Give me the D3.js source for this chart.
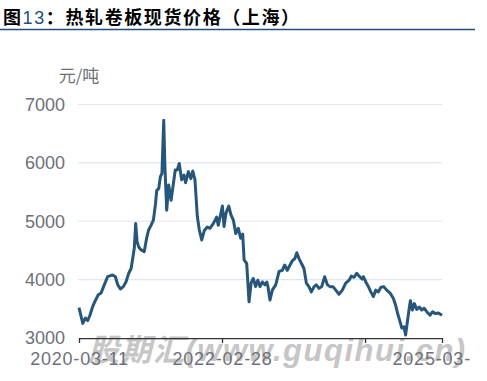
<!DOCTYPE html>
<html><head><meta charset="utf-8">
<script src="https://cdn.jsdelivr.net/npm/d3@7"></script>
<style>
html,body{margin:0;padding:0;background:#fff;}
svg{display:block;}
</style></head>
<body>
<svg id="c" width="487" height="381"></svg>
<script>
const titleText = ["图", "13", "：热轧卷板现货价格（上海）"];
const unitLabel = "元/吨";
const watermark = "股期汇(www.guqihui.cn)";
const yTicks = [3000, 4000, 5000, 6000, 7000];
const xTickDates = ["2020-03-11", "2022-02-28", "2024-02-17", "2025-03-10"];
const xTickLabels = ["2020-03-11", "2022-02-28", "", "2025-03-10"];
const dates = ["2020-03-11","2020-03-30","2020-04-12","2020-04-24","2020-05-05","2020-05-19","2020-06-01","2020-06-16","2020-06-30","2020-07-16","2020-08-02","2020-08-27","2020-09-10","2020-09-22","2020-10-05","2020-10-20","2020-11-02","2020-11-16","2020-11-28","2020-12-06","2020-12-14","2020-12-21","2020-12-28","2021-01-05","2021-01-17","2021-02-02","2021-02-14","2021-02-24","2021-03-08","2021-03-20","2021-03-30","2021-04-06","2021-04-16","2021-04-24","2021-05-02","2021-05-11","2021-05-17","2021-05-26","2021-06-05","2021-06-17","2021-06-30","2021-07-08","2021-07-18","2021-07-28","2021-08-09","2021-08-21","2021-08-29","2021-09-12","2021-09-24","2021-10-04","2021-10-15","2021-10-27","2021-11-06","2021-11-18","2021-12-01","2021-12-16","2021-12-30","2022-01-15","2022-02-01","2022-02-09","2022-02-18","2022-03-02","2022-03-10","2022-03-20","2022-04-03","2022-04-14","2022-04-26","2022-05-08","2022-05-21","2022-06-02","2022-06-12","2022-06-19","2022-07-02","2022-07-14","2022-07-24","2022-08-04","2022-08-16","2022-08-27","2022-09-07","2022-09-19","2022-10-02","2022-10-11","2022-10-17","2022-10-27","2022-11-08","2022-11-25","2022-12-12","2022-12-28","2023-01-09","2023-01-22","2023-02-05","2023-02-16","2023-03-01","2023-03-11","2023-03-22","2023-04-03","2023-04-16","2023-04-28","2023-05-11","2023-05-23","2023-06-06","2023-06-17","2023-07-01","2023-07-14","2023-07-29","2023-08-12","2023-08-25","2023-09-09","2023-09-23","2023-10-09","2023-10-26","2023-11-12","2023-11-29","2023-12-10","2023-12-24","2024-01-06","2024-01-21","2024-02-03","2024-02-09","2024-02-21","2024-03-05","2024-03-17","2024-03-30","2024-04-11","2024-04-24","2024-05-07","2024-05-21","2024-06-05","2024-06-22","2024-07-08","2024-07-20","2024-07-30","2024-08-11","2024-08-20","2024-08-31","2024-09-08","2024-09-17","2024-09-25","2024-10-02","2024-10-12","2024-10-22","2024-11-03","2024-11-16","2024-11-28","2024-12-10","2024-12-23","2025-01-09","2025-01-22","2025-02-03","2025-02-20","2025-03-05","2025-03-10"];
const prices = [3520,3250,3340,3300,3390,3540,3640,3740,3770,3910,4050,4080,4050,3910,3840,3880,3960,4110,4190,4360,4540,4960,4650,4560,4510,4480,4710,4850,4930,5020,5280,5530,5560,5760,5820,6730,5930,5190,5620,5360,5680,5880,5880,5990,5710,5790,5660,5850,5730,5860,5710,5080,4850,4680,4840,4900,4880,4960,5070,4930,5070,5260,4910,5140,5260,5110,5020,4790,4880,4710,4780,4340,4280,3620,3940,4020,3880,3990,3880,3960,3910,3960,3880,3650,3820,3910,4140,4160,4250,4160,4250,4320,4360,4460,4360,4280,4190,3940,3880,3790,3880,3910,3850,3880,4050,3910,3880,3880,3820,3750,3820,3940,3990,4060,4040,4110,4050,4010,4050,3960,3880,3790,3710,3820,3790,3870,3880,3820,3770,3680,3560,3420,3280,3170,3190,3050,3280,3480,3640,3480,3590,3490,3530,3480,3510,3450,3390,3450,3420,3430,3400,3390];

const parse = d3.timeParse("%Y-%m-%d");
const data = dates.map((d, i) => ({date: parse(d), v: prices[i]}));
const svg = d3.select("#c");

// title
const t = svg.append("text").attr("x", 3).attr("y", 24)
  .style("font-family", "'Noto Sans CJK SC', sans-serif").style("font-size", "18px")
  .style("letter-spacing", "1.6px");
t.append("tspan").text(titleText[0]).style("font-weight", "bold").attr("fill", "#000");
t.append("tspan").text(titleText[1]).style("font-family", "'Liberation Sans', Arial, sans-serif")
  .attr("fill", "#1f4e79").style("font-size", "18px");
t.append("tspan").text(titleText[2]).style("font-weight", "bold").attr("fill", "#000");
svg.append("line").attr("x1", 0).attr("x2", 475).attr("y1", 29.5).attr("y2", 29.5)
  .attr("stroke", "#1f4e79").attr("stroke-width", 1.5);

const x = d3.scaleTime().domain([parse(xTickDates[0]), parse(xTickDates[3])]).range([79, 442]);
const y = d3.scaleLinear().domain([3000, 7000]).range([338, 104.5]);

// watermark (behind)
svg.append("text").attr("x", 88).attr("y", 361).text(watermark)
  .style("font-family", "'Liberation Sans', 'Noto Sans CJK SC', sans-serif")
  .style("font-size", "31px").style("font-weight", "bold").style("font-style", "italic")
  .style("letter-spacing", "1.5px").attr("fill", "#c6c6c6");

// grid
svg.append("g").selectAll("line").data(yTicks.filter(d => d > 3000)).join("line")
  .attr("x1", 78).attr("x2", 442).attr("y1", d => y(d)).attr("y2", d => y(d))
  .attr("stroke", "#e0e6f1").attr("stroke-width", 1.2);

// y labels
svg.append("g").selectAll("text").data(yTicks).join("text")
  .attr("x", 65).attr("y", d => y(d)).attr("dy", "0.36em").attr("text-anchor", "end")
  .text(d => d).style("font-family", "'Liberation Sans', Arial, sans-serif")
  .style("font-size", "18px").attr("fill", "#6e7079");

svg.append("text").attr("x", 79).attr("y", 82).attr("text-anchor", "middle").text(unitLabel)
  .style("font-family", "'Noto Sans CJK SC', sans-serif").style("font-size", "17px").attr("fill", "#6e7079");

// x axis
const xAxis = d3.axisBottom(x).tickValues(xTickDates.map(parse)).tickSize(5)
  .tickSizeOuter(0).tickFormat((d, i) => xTickLabels[i]);
svg.append("defs").append("clipPath").attr("id", "clipx").append("rect")
  .attr("x", 0).attr("y", 0).attr("width", 472).attr("height", 381);
const gx = svg.append("g").attr("transform", "translate(0,338)").attr("clip-path", "url(#clipx)").call(xAxis);
gx.select(".domain").attr("stroke", "#333").attr("stroke-width", 1.5);
gx.selectAll(".tick line").attr("stroke", "#333").attr("stroke-width", 1.3);
gx.selectAll(".tick text").attr("fill", "#6e7079").attr("y", 14)
  .style("font-family", "'Liberation Sans', Arial, sans-serif").style("font-size", "18px")
  .style("letter-spacing", "0.8px");

// line
const line = d3.line().x(d => x(d.date)).y(d => y(d.v));
svg.append("path").datum(data).attr("d", line).attr("fill", "none")
  .attr("stroke", "#26567a").attr("stroke-width", 3).attr("stroke-linejoin", "round");
</script>
</body></html>
